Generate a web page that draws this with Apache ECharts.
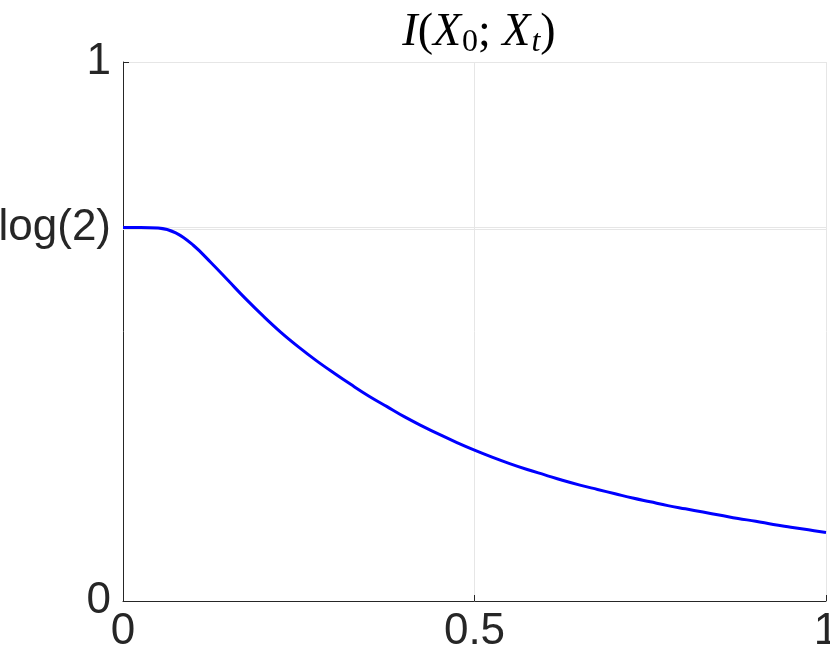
<!DOCTYPE html>
<html>
<head>
<meta charset="utf-8">
<script src="https://cdn.jsdelivr.net/npm/echarts@6/dist/echarts.min.js"></script>
<style>
html,body{margin:0;padding:0;background:#fff;}
#chart{width:830px;height:661px;}
</style>
</head>
<body>
<div id="chart"></div>
<script>
// Data
var tValues = [0, 0.025, 0.05, 0.075, 0.1, 0.125, 0.15, 0.175, 0.2, 0.225, 0.25, 0.275, 0.3, 0.325, 0.35, 0.375, 0.4, 0.425, 0.45, 0.475, 0.5, 0.525, 0.55, 0.575, 0.6, 0.625, 0.65, 0.675, 0.7, 0.725, 0.75, 0.775, 0.8, 0.825, 0.85, 0.875, 0.9, 0.925, 0.95, 0.975, 1.0];
var iValues = [0.693, 0.693, 0.692, 0.683, 0.660, 0.628, 0.594, 0.560, 0.528, 0.498, 0.471, 0.446, 0.423, 0.401, 0.380, 0.361, 0.342, 0.325, 0.309, 0.294, 0.280, 0.267, 0.255, 0.244, 0.234, 0.224, 0.215, 0.207, 0.199, 0.191, 0.184, 0.177, 0.171, 0.165, 0.159, 0.153, 0.148, 0.142, 0.137, 0.132, 0.127];
var yTickValues = [0, Math.LN2, 1];
var yTickLabels = ['0', 'log(2)', '1'];
var xTickLabels = ['0', '0.5', '1'];

var points = tValues.map(function (t, i) { return [t, iValues[i]]; });

var chart = echarts.init(document.getElementById('chart'), null, {renderer: 'canvas'});
var axisColor = '#262626';
var gridColor = '#e6e6e6';
var labelFont = 'Liberation Sans, Helvetica, Arial, sans-serif';
var serif = 'Liberation Serif, serif';

chart.setOption({
  animation: false,
  backgroundColor: '#ffffff',
  title: {
    text: '{it|I}{rm|(}{it|X}{sub|0}{rm|; }{it|X}{subit|t}{rm|)}',
    left: 474,
    textAlign: 'center',
    top: 2,
    textStyle: {
      fontWeight: 'normal',
      rich: {
        it: {fontFamily: serif, fontStyle: 'italic', fontWeight: 'normal', fontSize: 46, color: '#000'},
        rm: {fontFamily: serif, fontWeight: 'normal', fontSize: 46, color: '#000'},
        sub: {fontFamily: serif, fontWeight: 'normal', fontSize: 32, color: '#000', padding: [20, 0, 0, 1]},
        subit: {fontFamily: serif, fontStyle: 'italic', fontWeight: 'normal', fontSize: 32, color: '#000', padding: [20, 0, 0, 1]}
      }
    }
  },
  grid: {left: 123, right: 4, top: 62, bottom: 60, containLabel: false, outerBoundsMode: 'none'},
  xAxis: {
    type: 'value',
    min: 0,
    max: 1,
    interval: 0.5,
    axisLine: {show: true, lineStyle: {color: axisColor, width: 1}},
    axisTick: {show: true, inside: true, length: 6, lineStyle: {color: axisColor}},
    splitLine: {show: true, lineStyle: {color: gridColor, width: 1}},
    axisLabel: {
      margin: 9,
      fontSize: 44,
      fontFamily: labelFont,
      color: '#262626',
      formatter: function (v) {
        var idx = Math.round(v / 0.5);
        return xTickLabels[idx] !== undefined ? xTickLabels[idx] : '';
      }
    }
  },
  yAxis: {
    type: 'value',
    min: 0,
    max: 1,
    interval: 1,
    axisLine: {show: true, lineStyle: {color: axisColor, width: 1}},
    axisTick: {show: true, inside: true, length: 6, customValues: yTickValues, lineStyle: {color: axisColor}},
    splitLine: {show: true, lineStyle: {color: gridColor, width: 1}},
    axisLabel: {
      margin: 12,
      fontSize: 44,
      fontFamily: labelFont,
      color: '#262626',
      customValues: yTickValues,
      formatter: function (v) {
        for (var i = 0; i < yTickValues.length; i++) {
          if (Math.abs(v - yTickValues[i]) < 1e-6) return yTickLabels[i];
        }
        return '';
      }
    }
  },
  series: [{
    type: 'line',
    data: points,
    smooth: 0.4,
    showSymbol: false,
    lineStyle: {color: '#0000ff', width: 3},
    z: 3,
    markLine: {
      silent: true,
      symbol: 'none',
      label: {show: false},
      lineStyle: {color: gridColor, width: 1, type: 'solid'},
      data: [{yAxis: Math.LN2}],
      z: 1
    }
  }]
});
</script>
</body>
</html>
